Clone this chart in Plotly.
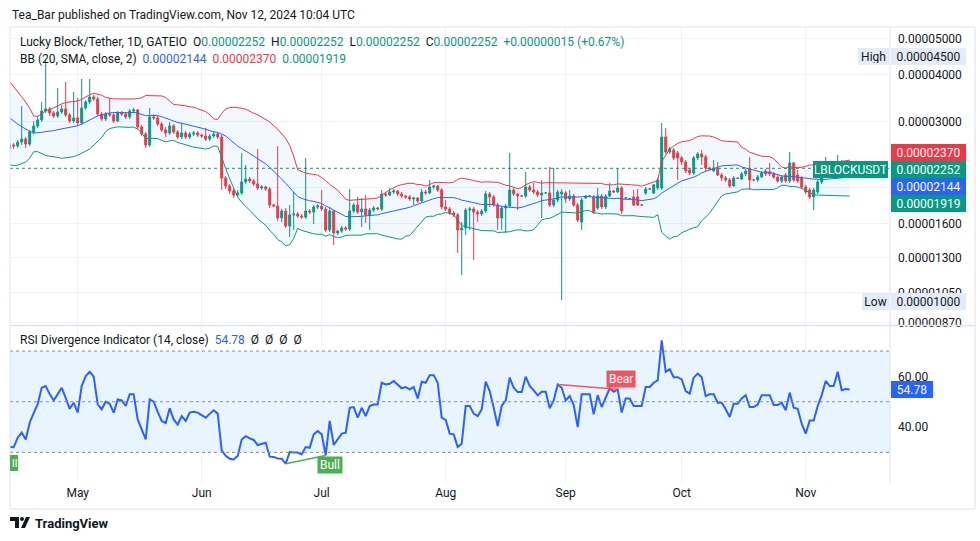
import numpy as np
import pandas as pd
import plotly.graph_objects as go

# ---------------- data (prices in units of 1e-8 USDT) ----------------
pre_close = [3800, 3700, 3650, 3550, 3500, 3500, 3050, 3000, 2950, 3050,
             2900, 2850, 2950, 2800, 2850, 2750, 2700, 2650, 2600]

open_e8 = [2552, 2600, 2584, 2648, 2697, 2616, 2816, 2922, 3032, 3205,
           3245, 3166, 3108, 3185, 3245, 3127, 3013, 3070, 2976, 3265,
           3388, 3494, 3451, 3146, 3051, 3146, 3127, 3013, 3166, 3146,
           3089, 3205, 3225, 2904, 2781, 2600, 3089, 3070, 2958, 2851,
           2798, 2922, 2816, 2731, 2798, 2731, 2781, 2798, 2764, 2747,
           2697, 2747, 2781, 2731, 2122, 2020, 1959, 1911, 1935, 2071,
           2109, 2083, 2045, 1996, 2008, 1983, 1797, 1786, 1659, 1732,
           1579, 1690, 1700, 1679, 1669, 1732, 1721, 1775, 1786, 1753,
           1541, 1732, 1513, 1531, 1560, 1550, 1732, 1797, 1721, 1753,
           1690, 1742, 1764, 1753, 1923, 1911, 1947, 1959, 1923, 1899,
           1888, 1865, 1876, 1842, 1947, 1935, 2008, 2020, 1971, 1775,
           1753, 1711, 1690, 1541, 1560, 1742, 1753, 1721, 1700, 1732,
           1923, 1888, 1797, 1659, 1764, 1786, 1971, 1923, 1899, 1899,
           2008, 1971, 1947, 1911, 1935, 1935, 1797, 1853, 1923, 1935,
           1865, 1899, 1797, 1618, 1876, 1899, 1888, 1764, 1899, 1775,
           1899, 1959, 1947, 1996, 1876, 1865, 1888, 1888, 1797, 1935,
           1983, 1935, 1996, 1996, 2731, 2490, 2521, 2475, 2400, 2341,
           2229, 2188, 2400, 2460, 2415, 2256, 2215, 2256, 2161, 2122,
           2096, 2020, 2122, 2109, 2175, 2243, 2096, 2096, 2135, 2215,
           2202, 2175, 2135, 2083, 2161, 2083, 2327, 2161, 2122, 2008,
           1971, 1888, 1947, 2071, 2135, 2229, 2215, 2229, 2298, 2243,
           2252]

high_e8 = [2648, 2632, 2681, 3305, 2731, 2851, 3013, 3108, 3388, 4386,
           3285, 3205, 3693, 3326, 3831, 3166, 3603, 3472, 3903, 3430,
           3903, 3537, 3494, 3185, 3185, 3472, 3166, 3205, 3205, 3185,
           3245, 3265, 3245, 2940, 2816, 3265, 3146, 3108, 2995, 2904,
           2995, 2958, 2851, 2976, 2833, 2816, 2833, 2833, 2781, 2886,
           2781, 2833, 2816, 2764, 2148, 2045, 1983, 1971, 2475, 2298,
           2135, 2109, 2537, 2033, 2020, 2008, 1808, 2584, 1753, 1764,
           1797, 1947, 1721, 1700, 2400, 1753, 1797, 1808, 1971, 1775,
           1775, 1742, 1541, 1579, 1579, 1983, 1819, 1888, 1876, 1911,
           1764, 1786, 1775, 1971, 1947, 1996, 1983, 1971, 1947, 1911,
           1911, 1888, 1888, 1983, 1971, 2096, 2033, 2033, 1996, 1853,
           1775, 1732, 1711, 1618, 1764, 1775, 1775, 1742, 1753, 1959,
           1947, 1911, 1819, 1786, 1808, 2475, 1996, 1935, 1911, 2202,
           2033, 2058, 1971, 2096, 1947, 2270, 2256, 1971, 1983, 1959,
           1971, 1923, 1819, 1876, 1911, 1911, 1911, 1996, 1923, 1923,
           2058, 1971, 2256, 2020, 1888, 1876, 1971, 1983, 1808, 2008,
           1996, 2045, 2122, 2976, 2886, 2568, 2552, 2506, 2430, 2370,
           2256, 2430, 2490, 2521, 2445, 2270, 2370, 2341, 2188, 2148,
           2122, 2148, 2135, 2202, 2243, 2415, 2109, 2161, 2215, 2243,
           2327, 2202, 2161, 2161, 2188, 2490, 2341, 2229, 2148, 2033,
           1996, 1996, 2096, 2161, 2415, 2284, 2256, 2445, 2370, 2256,
           2252]

low_e8 = [2521, 2537, 2552, 2600, 2552, 2584, 2781, 2886, 2995, 3166,
          3108, 3070, 3070, 3146, 3089, 2976, 2976, 2922, 2940, 3225,
          3346, 3409, 3108, 3013, 3013, 3089, 2976, 2995, 3108, 3051,
          3051, 3166, 2868, 2747, 2552, 2568, 3032, 2922, 2816, 2731,
          2764, 2781, 2697, 2697, 2697, 2697, 2747, 2731, 2714, 2664,
          2664, 2714, 2697, 1971, 1983, 1923, 1876, 1888, 1911, 2045,
          2058, 2020, 1971, 1971, 1959, 1764, 1775, 1628, 1618, 1560,
          1476, 1541, 1659, 1649, 1649, 1700, 1599, 1753, 1732, 1522,
          1522, 1405, 1494, 1513, 1531, 1531, 1711, 1700, 1569, 1609,
          1541, 1721, 1742, 1732, 1888, 1899, 1923, 1899, 1876, 1865,
          1842, 1797, 1819, 1830, 1911, 1923, 1983, 1947, 1753, 1732,
          1690, 1669, 1337, 1168, 1494, 1541, 1281, 1618, 1679, 1711,
          1775, 1775, 1541, 1541, 1513, 1764, 1899, 1742, 1888, 1876,
          1947, 1923, 1888, 1659, 1923, 1775, 1775, 1830, 1001, 1819,
          1842, 1775, 1618, 1541, 1865, 1888, 1700, 1742, 1753, 1753,
          1888, 1935, 1935, 1700, 1865, 1853, 1786, 1786, 1786, 1911,
          1971, 1923, 1971, 1971, 2460, 2460, 2370, 2096, 2298, 2188,
          2161, 2161, 2370, 2298, 2215, 2229, 2202, 2148, 2083, 2071,
          1996, 2008, 2109, 2096, 2148, 1971, 2083, 2071, 2122, 2148,
          2148, 2109, 2058, 2058, 2058, 2058, 2071, 2058, 1983, 1923,
          1865, 1742, 1923, 2045, 2122, 2188, 2188, 2202, 2215, 2229,
          2252]

close_e8 = [2600, 2584, 2648, 2697, 2616, 2816, 2922, 3032, 3205, 3245,
            3166, 3108, 3185, 3245, 3127, 3013, 3070, 2976, 3265, 3388,
            3494, 3451, 3146, 3051, 3146, 3127, 3013, 3166, 3146, 3089,
            3205, 3225, 2904, 2781, 2600, 3089, 3070, 2958, 2851, 2798,
            2922, 2816, 2731, 2798, 2731, 2781, 2798, 2764, 2747, 2697,
            2747, 2781, 2731, 2122, 2020, 1959, 1911, 1935, 2071, 2109,
            2083, 2045, 1996, 2008, 1983, 1797, 1786, 1659, 1732, 1579,
            1690, 1700, 1679, 1669, 1732, 1721, 1775, 1786, 1753, 1541,
            1732, 1513, 1531, 1560, 1550, 1732, 1797, 1721, 1753, 1690,
            1742, 1764, 1753, 1923, 1911, 1947, 1959, 1923, 1899, 1888,
            1865, 1876, 1842, 1947, 1935, 2008, 2020, 1971, 1775, 1753,
            1711, 1690, 1541, 1560, 1742, 1753, 1721, 1700, 1732, 1923,
            1888, 1797, 1659, 1764, 1786, 1971, 1923, 1899, 1899, 2008,
            1971, 1947, 1911, 1935, 1935, 1797, 1853, 1947, 1947, 1865,
            1899, 1797, 1638, 1853, 1899, 1899, 1721, 1899, 1775, 1899,
            1959, 1947, 1996, 1732, 1876, 1865, 1797, 1797, 1797, 1983,
            1983, 2033, 2096, 2731, 2490, 2537, 2400, 2400, 2341, 2215,
            2188, 2400, 2460, 2415, 2256, 2243, 2256, 2161, 2122, 2096,
            2020, 2122, 2115, 2175, 2215, 2096, 2096, 2135, 2188, 2175,
            2175, 2135, 2083, 2135, 2083, 2327, 2096, 2083, 2008, 1947,
            1888, 1971, 2071, 2135, 2229, 2215, 2229, 2298, 2243, 2237,
            2252]

rsi = [32.1, 32.0, 35.8, 37.8, 35.1, 41.7, 45.5, 49.0, 55.5, 56.2,
       53.0, 50.5, 53.0, 55.5, 51.5, 47.2, 49.6, 45.7, 56.2, 60.1,
       61.8, 59.9, 49.0, 47.0, 50.0, 49.2, 45.7, 50.9, 50.5, 48.3,
       52.9, 52.9, 43.0, 39.0, 35.1, 50.9, 50.0, 46.0, 42.4, 41.6,
       47.4, 43.0, 41.0, 44.3, 42.4, 45.7, 46.0, 45.7, 44.8, 43.7,
       45.2, 46.6, 45.3, 30.8, 28.6, 27.5, 27.2, 28.6, 35.1, 36.4,
       35.5, 34.9, 32.9, 33.4, 33.8, 28.3, 28.2, 27.6, 27.5, 25.5,
       30.1, 29.9, 29.9, 29.2, 32.1, 31.8, 37.1, 38.4, 37.1, 28.8,
       42.4, 32.9, 35.1, 37.4, 37.8, 47.6, 47.9, 43.7, 47.6, 44.3,
       48.3, 48.9, 48.9, 57.5, 56.8, 57.1, 58.2, 56.6, 55.3, 55.8,
       54.9, 55.8, 51.3, 57.9, 57.5, 60.5, 60.5, 57.5, 43.7, 42.8,
       37.4, 37.1, 32.1, 33.4, 48.3, 48.3, 45.3, 44.3, 47.0, 57.9,
       54.2, 47.6, 40.4, 48.3, 50.5, 59.5, 55.5, 53.8, 53.8, 59.9,
       56.2, 54.5, 52.5, 53.9, 53.9, 47.4, 50.5, 56.8, 55.5, 50.5,
       52.2, 48.7, 40.0, 52.9, 52.9, 52.9, 45.0, 52.6, 47.9, 51.8,
       55.3, 53.9, 54.9, 45.7, 51.3, 51.3, 48.3, 48.3, 48.3, 55.8,
       55.8, 57.5, 58.4, 74.2, 61.8, 62.8, 59.7, 59.7, 58.8, 54.2,
       53.2, 59.5, 61.1, 59.7, 52.2, 52.9, 52.9, 49.6, 49.6, 47.0,
       44.0, 49.2, 49.2, 51.3, 52.6, 47.9, 47.9, 48.9, 52.6, 52.6,
       52.6, 48.7, 48.7, 49.6, 46.6, 53.6, 47.6, 47.2, 41.3, 37.4,
       42.6, 42.6, 48.3, 52.6, 58.2, 56.2, 56.2, 61.8, 54.5, 55.0,
       54.78]

# bar dates (exchange had no bars on two days)
all_days = pd.date_range("2024-04-14", "2024-11-12", freq="D")
missing_days = ["2024-08-18", "2024-09-22"]
dates = all_days.drop(pd.to_datetime(missing_days)).strftime("%Y-%m-%d").tolist()

month_ticks = ["2024-05-01", "2024-06-01", "2024-07-01", "2024-08-01",
               "2024-09-01", "2024-10-01", "2024-11-01"]
month_labels = ["May", "Jun", "Jul", "Aug", "Sep", "Oct", "Nov"]

price_ticks_e8 = [5000, 4000, 3000, 2000, 1600, 1300, 1050, 870]
price_ticks_txt = ["0.00005000", "0.00004000", "0.00003000", "",
                   "0.00001600", "0.00001300", "0.00001050", "0.00000870"]
visible_high_e8 = 4500
visible_low_e8 = 1000
bb_last_e8 = {"basis": 2144, "upper": 2370, "lower": 1919}   # as printed in legend
rsi_ticks = [60, 40]
bull_pts = [69, 79]
bear_pts = [137, 152]

# ---------------- derived ----------------
S = 1e-8
o = np.array(open_e8) * S
h = np.array(high_e8) * S
l = np.array(low_e8) * S
c = np.array(close_e8) * S
allc = pd.Series(np.array(pre_close + close_e8, float) * S)
n0 = len(pre_close)
basis = allc.rolling(20).mean().to_numpy()[n0:]
dev = allc.rolling(20).std(ddof=0).to_numpy()[n0:]
upper = basis + 2 * dev
lower = basis - 2 * dev

FONT = "Roboto, 'Noto Sans', sans-serif"
TXT = "#131722"
UP = "#089981"
DN = "#f23645"
BLUE = "#2962ff"

W, Hh = 980, 541
PL, PR, PT, PB = 10, 890, 27, 483


def px(x):
    return (x - PL) / (PR - PL)


def py(y):
    return (PB - y) / (PB - PT)


def fmt(v):
    return f"{v * S:.8f}"


fig = go.Figure()

# Bollinger fill + lines
fig.add_trace(go.Scatter(x=dates, y=upper, mode="lines", line=dict(color=DN, width=1),
                         hoverinfo="skip", showlegend=False))
fig.add_trace(go.Scatter(x=dates, y=lower, mode="lines", line=dict(color=UP, width=1),
                         fill="tonexty", fillcolor="rgba(33,150,243,0.06)",
                         hoverinfo="skip", showlegend=False))
fig.add_trace(go.Scatter(x=dates, y=basis, mode="lines", line=dict(color=BLUE, width=1),
                         hoverinfo="skip", showlegend=False))

fig.add_trace(go.Candlestick(
    x=dates, open=o, high=h, low=l, close=c,
    increasing=dict(line=dict(color=UP, width=1), fillcolor=UP),
    decreasing=dict(line=dict(color=DN, width=1), fillcolor=DN),
    whiskerwidth=0, showlegend=False, hoverinfo="skip"))

# RSI
fig.add_trace(go.Scatter(x=dates, y=rsi, mode="lines", line=dict(color=BLUE, width=2),
                         xaxis="x2", yaxis="y2", hoverinfo="skip", showlegend=False))
fig.add_trace(go.Scatter(x=[dates[i] for i in bull_pts], y=[rsi[i] for i in bull_pts],
                         mode="lines", line=dict(color="#4caf50", width=1.5),
                         xaxis="x2", yaxis="y2", hoverinfo="skip", showlegend=False))
fig.add_trace(go.Scatter(x=[dates[i] for i in bear_pts], y=[rsi[i] for i in bear_pts],
                         mode="lines", line=dict(color="#f7525f", width=1.5),
                         xaxis="x2", yaxis="y2", hoverinfo="skip", showlegend=False))

main_dom = [py(325), 1]
rsi_dom = [0, py(326)]
ylo = np.log10(3e-5) - (325 - 121.7) / 162.5 / np.log(10)
yhi = np.log10(3e-5) + (121.7 - 27) / 162.5 / np.log(10)

grid = "#f0f3fa"
fig.update_layout(
    width=W, height=Hh, autosize=False,
    margin=dict(l=PL, r=W - PR, t=PT, b=Hh - PB),
    paper_bgcolor="white", plot_bgcolor="white",
    font=dict(family=FONT, size=12, color=TXT),
    hovermode=False, showlegend=False,
    xaxis=dict(type="category", range=[0.075, 220.075], domain=[0, 1], anchor="y",
               rangeslider=dict(visible=False), showticklabels=False,
               tickvals=month_ticks, showgrid=True, gridcolor=grid, gridwidth=1,
               showline=False, zeroline=False, ticks=""),
    xaxis2=dict(type="category", matches="x", domain=[0, 1], anchor="y2",
                tickvals=month_ticks, ticktext=month_labels, showgrid=True,
                gridcolor=grid, ticks="", showline=False, zeroline=False,
                tickfont=dict(size=12, color=TXT), ticklabelstandoff=1),
    yaxis=dict(type="log", domain=main_dom, range=[ylo, yhi], side="right",
               tickvals=[v * S for v in price_ticks_e8], ticktext=price_ticks_txt,
               showgrid=True, gridcolor=grid, ticks="", ticklabelstandoff=7,
               showline=False, zeroline=False, tickfont=dict(size=12, color=TXT)),
    yaxis2=dict(domain=rsi_dom, range=[17.9, 79.9], side="right", tickvals=rsi_ticks,
                ticktext=[f"{v:.2f}" for v in rsi_ticks], showgrid=True, gridcolor=grid,
                ticks="", ticklabelstandoff=7, showline=False, zeroline=False,
                tickfont=dict(size=12, color=TXT)),
)

shapes = []
# RSI band and levels
shapes.append(dict(type="rect", xref="x2 domain", yref="y2", x0=0, x1=1, y0=30, y1=70,
                   fillcolor="rgba(33,150,243,0.1)", line=dict(width=0), layer="below"))
for lv in (70, 50, 30):
    shapes.append(dict(type="line", xref="x2 domain", yref="y2", x0=0, x1=1, y0=lv, y1=lv,
                       line=dict(color="#8a8d96", width=1, dash="dot")))
# current price dotted line
shapes.append(dict(type="line", xref="x domain", yref="y", x0=0, x1=1,
                   y0=c[-1], y1=c[-1], line=dict(color=UP, width=1, dash="dot")))
# frame
border = "#e0e3eb"
shapes.append(dict(type="rect", xref="paper", yref="paper", x0=px(10), x1=px(975),
                   y0=py(509), y1=py(27), line=dict(color=border, width=1)))
shapes.append(dict(type="line", xref="paper", yref="paper", x0=px(890), x1=px(890),
                   y0=py(483), y1=py(27), line=dict(color=border, width=1)))
shapes.append(dict(type="line", xref="paper", yref="paper", x0=px(10), x1=px(975),
                   y0=py(325.5), y1=py(325.5), line=dict(color=border, width=1.5)))
# partial divergence label at left edge
shapes.append(dict(type="rect", xref="paper", yref="paper", x0=px(10), x1=px(18),
                   y0=py(471), y1=py(455), fillcolor="#4caf50", line=dict(width=0)))
# TradingView logo
shapes.append(dict(type="path", xref="paper", yref="paper",
                   path=f"M {px(10)} {py(517)} L {px(19)} {py(517)} L {px(19)} {py(528)} "
                        f"L {px(15)} {py(528)} L {px(15)} {py(521)} L {px(10)} {py(521)} Z",
                   fillcolor=TXT, line=dict(width=0)))
shapes.append(dict(type="circle", xref="paper", yref="paper", x0=px(20), x1=px(24),
                   y0=py(521), y1=py(517), fillcolor=TXT, line=dict(width=0)))
shapes.append(dict(type="path", xref="paper", yref="paper",
                   path=f"M {px(21)} {py(528)} L {px(26)} {py(517)} L {px(30)} {py(517)} "
                        f"L {px(25)} {py(528)} Z",
                   fillcolor=TXT, line=dict(width=0)))
fig.update_layout(shapes=shapes)

ann = []


def text(x, y, t, size=12, color=TXT, xanchor="left"):
    ann.append(dict(x=px(x), y=py(y), xref="paper", yref="paper", text=t, showarrow=False,
                    xanchor=xanchor, yanchor="middle", font=dict(size=size, color=color)))


def box(x, y, t, bg, fg="white", w=71, xanchor="left", size=12):
    ann.append(dict(x=px(x), y=py(y), xref="paper", yref="paper", text=t, showarrow=False,
                    xanchor=xanchor, yanchor="middle", bgcolor=bg, borderpad=2,
                    borderwidth=0, width=w, height=13, align="center",
                    font=dict(size=size, color=fg)))


def g(t):
    return f"<span style='color:{UP}'>{t}</span>"


sp = "&nbsp;&nbsp;"
text(10, 15, "Tea_Bar published on TradingView.com, Nov 12, 2024 10:04 UTC")
chg = close_e8[-1] - close_e8[-2]
pct = chg / close_e8[-2] * 100
line1 = ("Lucky Block/Tether, 1D, GATEIO" + sp + "O" + g(fmt(open_e8[-1])) + sp +
         "H" + g(fmt(high_e8[-1])) + sp + "L" + g(fmt(low_e8[-1])) + sp +
         "C" + g(fmt(close_e8[-1])) + sp + g(f"+{fmt(chg)} (+{pct:.2f}%)"))
text(18, 42, line1)
line2 = ("BB (20, SMA, close, 2)" + sp +
         f"<span style='color:{BLUE}'>{fmt(bb_last_e8['basis'])}</span>" + sp +
         f"<span style='color:{DN}'>{fmt(bb_last_e8['upper'])}</span>" + sp +
         g(fmt(bb_last_e8['lower'])))
text(18, 59, line2)
text(18, 340, "RSI Divergence Indicator (14, close)" + sp +
     f"<span style='color:{BLUE}'>{rsi[-1]:.2f}</span>" + sp + "Ø&nbsp;&nbsp;Ø&nbsp;&nbsp;Ø&nbsp;&nbsp;Ø")

# right-side value labels
box(891, 152.4, fmt(bb_last_e8["upper"]), DN)
box(891, 169.5, fmt(close_e8[-1]), UP)
box(891, 186.2, fmt(bb_last_e8["basis"]), BLUE)
box(891, 203.7, fmt(bb_last_e8["lower"]), UP)
box(813, 169.5, "LBLOCKUSDT", UP, w=71)
hl_bg = "#e4ecfa"
box(891, 57, fmt(visible_high_e8), hl_bg, fg=TXT)
box(889, 57, "High", hl_bg, fg=TXT, w=27, xanchor="right")
box(891, 301.5, fmt(visible_low_e8), hl_bg, fg=TXT)
box(889, 301.5, "Low", hl_bg, fg=TXT, w=23, xanchor="right")
box(891, 389.5, f"{rsi[-1]:.2f}", BLUE, w=38)

# divergence labels
ann.append(dict(x=dates[bull_pts[1]], y=rsi[bull_pts[1]], xref="x2", yref="y2", text="Bull",
                showarrow=False, xshift=4, yshift=-10, bgcolor="#4caf50", borderpad=2,
                font=dict(size=12, color="white"), height=12))
ann.append(dict(x=dates[bear_pts[1]], y=rsi[bear_pts[1]], xref="x2", yref="y2", text="Bear",
                showarrow=False, xshift=3, yshift=10, bgcolor="#f7525f", borderpad=2,
                font=dict(size=12, color="white"), height=12))
text(9.5, 463, "ll", size=11, color="white")

# footer brand
ann.append(dict(x=px(33), y=py(523), xref="paper", yref="paper",
                text="<b>TradingView</b>", showarrow=False, xanchor="left", yanchor="middle",
                font=dict(size=13, color=TXT)))

fig.update_layout(annotations=ann)
fig.write_html("out.html", config={"displayModeBar": False})
